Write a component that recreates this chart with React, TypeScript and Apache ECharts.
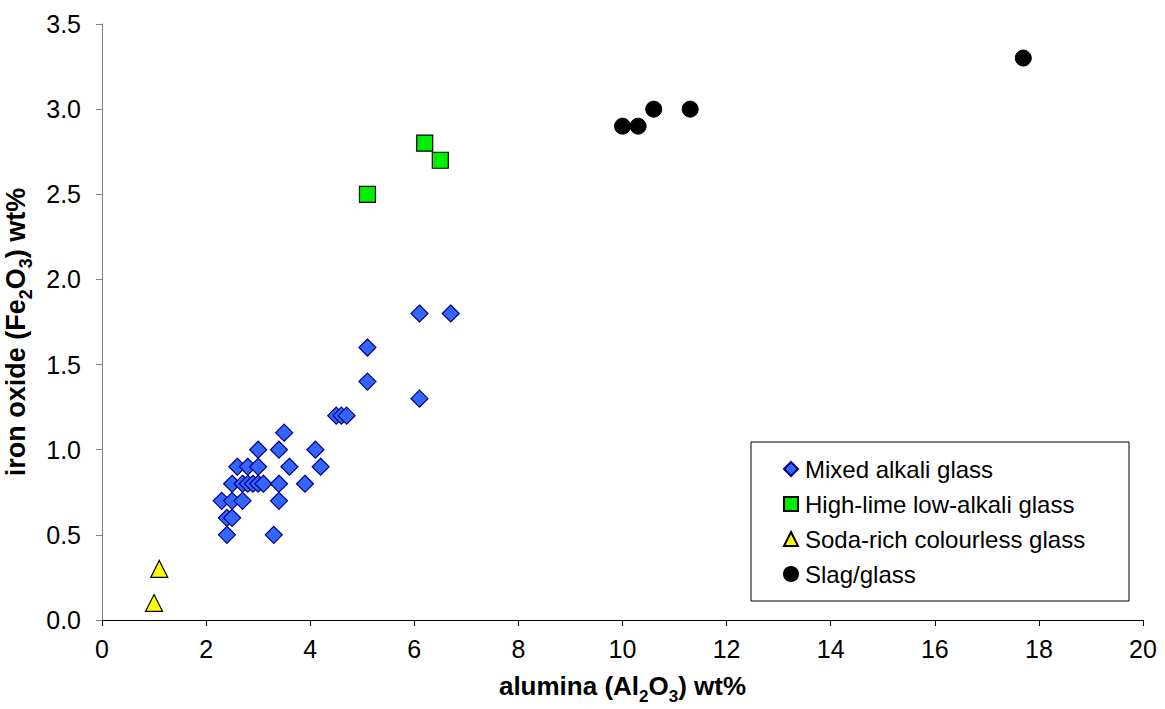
import React, { useEffect, useRef } from "react";
import * as echarts from "echarts";

const seriesNames = [
  "Mixed alkali glass",
  "High-lime low-alkali glass",
  "Soda-rich colourless glass",
  "Slag/glass",
];

const mixedAlkali: number[][] = [
  [3.5, 1.1], [3.0, 1.0], [3.4, 1.0], [4.1, 1.0],
  [2.6, 0.9], [2.8, 0.9], [3.0, 0.9], [3.6, 0.9], [4.2, 0.9],
  [2.5, 0.8], [2.7, 0.8], [2.8, 0.8], [2.9, 0.8], [3.0, 0.8], [3.1, 0.8], [3.4, 0.8], [3.9, 0.8],
  [2.3, 0.7], [2.5, 0.7], [2.7, 0.7], [3.4, 0.7],
  [2.4, 0.6], [2.5, 0.6],
  [2.4, 0.5], [3.3, 0.5],
  [4.5, 1.2], [4.6, 1.2], [4.7, 1.2],
  [5.1, 1.6], [5.1, 1.4], [6.1, 1.3], [6.1, 1.8], [6.7, 1.8],
];
const highLime: number[][] = [[5.1, 2.5], [6.2, 2.8], [6.5, 2.7]];
const sodaRich: number[][] = [[1.0, 0.1], [1.1, 0.3]];
const slag: number[][] = [[10.0, 2.9], [10.3, 2.9], [10.6, 3.0], [11.3, 3.0], [17.7, 3.3]];

const FONT = "Liberation Sans, Arial, sans-serif";

function richFor(size: number) {
  return {
    b: { fontSize: size, fontWeight: "bold", fontFamily: FONT, color: "#000" },
    sub: {
      fontSize: Math.round(size * 0.65),
      fontWeight: "bold",
      fontFamily: FONT,
      color: "#000",
      verticalAlign: "bottom",
      padding: [0, 0, -6, 0],
    },
  };
}

export default function App() {
  const ref = useRef<HTMLDivElement>(null);
  useEffect(() => {
    if (!ref.current) return;
    const chart = echarts.init(ref.current, null, { renderer: "svg" });
    chart.setOption({
      animation: false,
      backgroundColor: "#fff",
      textStyle: { fontFamily: FONT },
      grid: {
        left: 102,
        top: 24,
        width: 1041,
        height: 596,
        containLabel: false,
        outerBoundsMode: "none",
      },
      legend: {
        orient: "vertical",
        left: 778,
        top: 452,
        itemWidth: 14,
        itemHeight: 14,
        itemGap: 11,
        textStyle: { fontSize: 24, fontFamily: FONT, color: "#000", padding: [0, 0, 0, 2] },
        data: seriesNames,
      },
      graphic: [
        {
          type: "rect",
          shape: { x: 751, y: 442, width: 378, height: 159 },
          style: { fill: "none", stroke: "#000", lineWidth: 1 },
          z: 10,
        },
      ],
      xAxis: {
        type: "value",
        min: 0,
        max: 20,
        interval: 2,
        name: "{b|alumina (Al}{sub|2}{b|O}{sub|3}{b|) wt%}",
        nameLocation: "middle",
        nameGap: 53,
        nameTextStyle: { rich: richFor(26) },
        axisLine: { show: true, onZero: false, lineStyle: { color: "#000", width: 1 } },
        axisTick: { show: true, inside: false, length: 6, lineStyle: { color: "#000" } },
        axisLabel: { fontSize: 25, color: "#000", fontFamily: FONT, margin: 16 },
        splitLine: { show: false },
      },
      yAxis: {
        type: "value",
        min: 0,
        max: 3.5,
        interval: 0.5,
        name: "{b|iron oxide (Fe}{sub|2}{b|O}{sub|3}{b|) wt%}",
        nameLocation: "middle",
        nameRotate: 90,
        nameGap: 64,
        nameTextStyle: { rich: richFor(27), padding: [0, 20, 0, 0] },
        axisLine: { show: true, onZero: false, lineStyle: { color: "#808080", width: 1 } },
        axisTick: { show: true, inside: false, length: 6, lineStyle: { color: "#808080" } },
        axisLabel: {
          fontSize: 25,
          color: "#000",
          fontFamily: FONT,
          margin: 21,
          formatter: (v: number) => v.toFixed(1),
        },
        splitLine: { show: false },
      },
      series: [
        {
          name: seriesNames[0],
          type: "scatter",
          symbol: "diamond",
          symbolSize: 17,
          data: mixedAlkali,
          itemStyle: { color: "#3366FF", borderColor: "#000080", borderWidth: 1.2, opacity: 1 },
        },
        {
          name: seriesNames[1],
          type: "scatter",
          symbol: "rect",
          symbolSize: 16,
          data: highLime,
          itemStyle: { color: "#00EE00", borderColor: "#000", borderWidth: 1.2, opacity: 1 },
        },
        {
          name: seriesNames[2],
          type: "scatter",
          symbol: "triangle",
          symbolSize: 17,
          data: sodaRich,
          itemStyle: { color: "#FFFF00", borderColor: "#000", borderWidth: 1.2, opacity: 1 },
        },
        {
          name: seriesNames[3],
          type: "scatter",
          symbol: "circle",
          symbolSize: 16,
          data: slag,
          itemStyle: { color: "#000", borderColor: "#000", borderWidth: 1, opacity: 1 },
        },
      ],
    });
    return () => chart.dispose();
  }, []);
  return <div ref={ref} style={{ width: 1165, height: 709, position: "absolute", left: 0, top: 0 }} />;
}
